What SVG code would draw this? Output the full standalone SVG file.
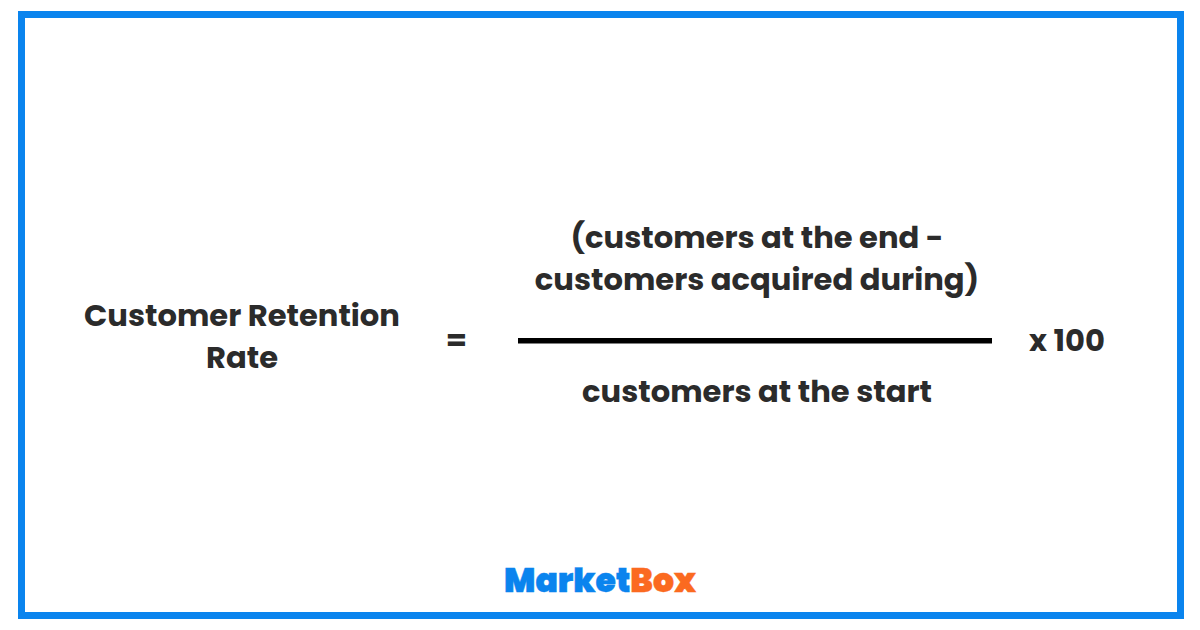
<svg xmlns="http://www.w3.org/2000/svg" width="1200" height="630" viewBox="0 0 1200 630">
<style>
.t{font-family:"Poppins","Inter","Liberation Sans",sans-serif;font-weight:700;font-size:30.600px;fill:#2b2b2b;text-anchor:middle}
.l{font-family:"Poppins","Inter","Liberation Sans",sans-serif;font-weight:900;font-size:33px;stroke-width:.4px;paint-order:stroke}
</style>
<rect width="1200" height="630" fill="#fff"/>
<rect x="21.500" y="14.500" width="1159" height="601" fill="none" stroke="#0a84ee" stroke-width="7"/>
<g id="lhs"><text class="t" x="242" y="326">Customer Retention</text><text class="t" x="242" y="368">Rate</text></g>
<g id="eq"><text class="t" x="456.500" y="351">=</text></g>
<g id="numerator"><text class="t" x="757" y="248">(customers at the end -</text><text class="t" x="757" y="290">customers acquired during)</text></g>
<g id="connectors"><rect x="518" y="338" width="474" height="5.500" fill="#000"/></g>
<g id="denominator"><text class="t" x="757" y="402">customers at the start</text></g>
<g id="mult"><text class="t" x="1067" y="351">x 100</text></g>
<g id="logo"><text class="l" x="504" y="591.500" fill="#0a84ee" stroke="#0a84ee" textLength="192" lengthAdjust="spacing">Market<tspan fill="#fb6a20" stroke="#fb6a20">Box</tspan></text></g>
</svg>
